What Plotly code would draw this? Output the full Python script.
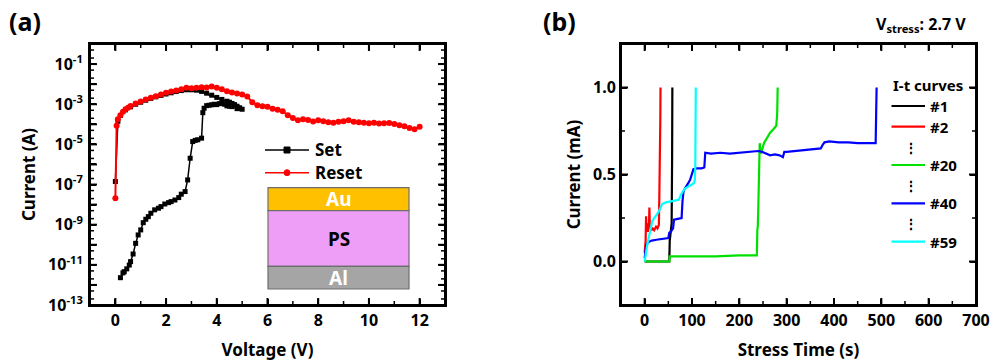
import math
import plotly.graph_objects as go

W, H = 991, 363
FONT = "Noto Sans"

# ---------------- (a) I-V characteristics (log10 of current in A) ----------------
set_up_v = [0.2, 0.3, 0.35, 0.45, 0.55, 0.6, 0.7, 0.8, 0.9, 1.0, 1.1, 1.2, 1.3, 1.4,
            1.55, 1.7, 1.8, 1.95, 2.1, 2.2, 2.35, 2.5, 2.6, 2.75, 2.85, 2.95, 3.05,
            3.15, 3.25, 3.4, 3.45, 3.5, 3.6, 3.7, 3.8, 3.9, 4.0, 4.1, 4.2, 4.3, 4.4,
            4.5, 4.6, 4.7, 4.8, 4.9, 5.0]
set_up_log = [-11.64, -11.40, -11.34, -11.20, -11.01, -10.84, -10.46, -9.93, -9.51,
              -9.26, -8.90, -8.73, -8.60, -8.43, -8.26, -8.18, -8.10, -7.97, -7.90,
              -7.85, -7.77, -7.65, -7.48, -7.35, -6.77, -5.69, -4.86, -4.80, -4.77,
              -4.69, -3.42, -3.20, -3.07, -3.05, -3.03, -3.00, -3.02, -2.97, -2.95,
              -3.00, -3.08, -3.10, -3.12, -3.05, -3.22, -3.20, -3.25]
set_down_v = [4.9, 4.8, 4.7, 4.6, 4.5, 4.4, 4.2, 4.0, 3.8, 3.6, 3.4, 3.2, 3.0, 2.8,
              2.6, 2.4, 2.2, 2.0, 1.8, 1.6, 1.4, 1.2, 1.0, 0.8, 0.6, 0.4, 0.2, 0.1, 0.0]
set_down_log = [-3.18, -3.10, -3.02, -2.96, -2.90, -2.85, -2.76, -2.66, -2.55, -2.45,
                -2.36, -2.30, -2.28, -2.28, -2.32, -2.37, -2.43, -2.49, -2.56, -2.63,
                -2.71, -2.80, -2.90, -3.00, -3.13, -3.28, -3.56, -3.85, -6.85]

reset_v = [0, 0.05, 0.1, 0.2, 0.3, 0.4, 0.5, 0.6, 0.8, 1.0, 1.2, 1.4, 1.6, 1.8, 2.0,
           2.2, 2.4, 2.6, 2.8, 3.0, 3.2, 3.4, 3.6, 3.8, 4.0, 4.2, 4.4, 4.6, 4.8, 5.0,
           5.2, 5.4, 5.6, 5.8, 6.0, 6.2, 6.4, 6.6, 6.8, 7.0, 7.2, 7.4, 7.6, 7.8, 8.0,
           8.2, 8.4, 8.6, 8.8, 9.0, 9.2, 9.4, 9.6, 9.8, 10.0, 10.2, 10.4, 10.6, 10.8,
           11.0, 11.2, 11.4, 11.6, 11.8, 12.0]
reset_log = [-7.68, -4.07, -3.75, -3.55, -3.38, -3.25, -3.17, -3.09, -2.96, -2.86,
             -2.77, -2.68, -2.60, -2.52, -2.43, -2.37, -2.31, -2.25, -2.18, -2.20,
             -2.18, -2.15, -2.17, -2.12, -2.18, -2.25, -2.35, -2.42, -2.47, -2.52,
             -2.62, -2.90, -3.05, -3.10, -3.13, -3.22, -3.27, -3.35, -3.55, -3.68,
             -3.80, -3.75, -3.78, -3.86, -3.80, -3.85, -3.90, -3.92, -3.87, -3.85,
             -3.80, -3.87, -3.90, -3.92, -3.95, -3.92, -3.96, -3.95, -3.94, -3.98,
             -4.05, -4.10, -4.18, -4.24, -4.12]

A_XRANGE = [-1, 13]
A_LOGRANGE = [-13, 0]
log_ticks = list(range(-13, 1))
log_ticktext = ["10<sup>%d</sup>" % k if k % 2 else "" for k in log_ticks]
stack_layers = [("Au", "#FFC000", "white"), ("PS", "#EE9EF7", "black"), ("Al", "#A5A5A5", "white")]

# ---------------- (b) I-t curves under constant stress ----------------
t1 = [0, 10, 20, 30, 40, 50, 52, 53, 55, 57, 58, 58.5]
i1 = [0, 0, 0, 0, 0, 0, 0, 0.12, 0.18, 0.22, 0.60, 1.0]

t2 = [0, 2, 3, 4, 5, 7, 9, 10, 11, 12, 14, 17, 20, 24, 27, 30, 31, 32, 33, 33.5]
i2 = [0.05, 0.12, 0.26, 0.17, 0.22, 0.17, 0.20, 0.31, 0.19, 0.21, 0.18, 0.19, 0.18,
      0.20, 0.19, 0.21, 0.38, 0.52, 0.80, 1.0]

t20 = [0, 20, 40, 52, 53, 60, 100, 150, 200, 230, 237, 238, 239, 240, 241, 243, 245,
       248, 252, 258, 265, 272, 278, 280, 281]
i20 = [0, 0, 0, 0, 0.03, 0.03, 0.03, 0.03, 0.035, 0.035, 0.035, 0.18, 0.20, 0.30,
       0.55, 0.68, 0.62, 0.64, 0.68, 0.71, 0.74, 0.76, 0.78, 0.85, 1.0]

t40 = [0, 1, 3, 7, 15, 25, 40, 50, 52, 55, 60, 62, 70, 78, 80, 82, 85, 88, 92, 96, 100,
       103, 110, 120, 126, 128, 140, 160, 180, 200, 220, 240, 248, 255, 265, 275, 285,
       292, 295, 300, 320, 340, 360, 372, 376, 380, 390, 410, 430, 450, 470, 488, 490]
i40 = [0.02, 0.06, 0.09, 0.11, 0.12, 0.125, 0.13, 0.135, 0.165, 0.17, 0.19, 0.24, 0.245,
       0.25, 0.35, 0.40, 0.42, 0.43, 0.45, 0.47, 0.50, 0.53, 0.535, 0.535, 0.54, 0.625,
       0.62, 0.625, 0.62, 0.625, 0.63, 0.635, 0.63, 0.62, 0.61, 0.615, 0.61, 0.60, 0.63,
       0.63, 0.635, 0.64, 0.645, 0.65, 0.67, 0.685, 0.69, 0.685, 0.685, 0.68, 0.68, 0.68,
       1.0]

t59 = [0, 2, 5, 8, 12, 16, 20, 26, 32, 37, 45, 55, 65, 72, 76, 80, 86, 92, 98, 104,
       106, 107, 108]
i59 = [0.0, 0.05, 0.09, 0.13, 0.18, 0.23, 0.25, 0.27, 0.30, 0.33, 0.34, 0.345, 0.35,
       0.355, 0.38, 0.40, 0.42, 0.43, 0.44, 0.45, 0.47, 0.55, 1.0]

curve_names = ["#1", "#2", "#20", "#40", "#59"]
curve_colors = ["#000000", "#FF0000", "#00E000", "#0000FF", "#00FFFF"]
curve_t = [t1, t2, t20, t40, t59]
curve_i = [i1, i2, i20, i40, i59]

B_XRANGE = [-50, 700]
B_YRANGE = [-0.25, 1.25]

# ---------------- layout geometry (pixels) ----------------
A_X = (90, 445)
B_X = (621, 976)
P_Y = (44, 305)
PLOT_W = A_X[1] - A_X[0]
PLOT_H = P_Y[1] - P_Y[0]
MAJOR_LEN, MINOR_LEN = 7, 4


def px(x):
    return x / W


def py(y):
    return 1 - y / H


fig = go.Figure()

fig.add_trace(go.Scatter(
    x=set_up_v + set_down_v,
    y=[10 ** v for v in set_up_log + set_down_log],
    mode="lines+markers", name="Set",
    line=dict(color="black", width=1.5),
    marker=dict(symbol="square", size=5, color="black"),
    xaxis="x", yaxis="y"))
fig.add_trace(go.Scatter(
    x=reset_v, y=[10 ** v for v in reset_log],
    mode="lines+markers", name="Reset",
    line=dict(color="red", width=2),
    marker=dict(symbol="circle", size=6, color="red"),
    xaxis="x", yaxis="y"))

for name, col, tt, ii in zip(curve_names, curve_colors, curve_t, curve_i):
    fig.add_trace(go.Scatter(
        x=tt, y=ii, mode="lines", name=name,
        line=dict(color=col, width=2.2),
        xaxis="x2", yaxis="y2"))

tickfont = dict(family=FONT, size=16, color="black", weight="bold")
titlefont = dict(family=FONT, size=17, color="black", weight="bold")
common = dict(showline=True, linecolor="#000000", linewidth=2, mirror="ticks",
              ticks="inside", ticklen=6, tickwidth=1.5, tickcolor="#000000",
              showgrid=False, zeroline=False, tickfont=tickfont)

fig.update_layout(
    template="none",
    width=W, height=H,
    margin=dict(l=0, r=0, t=0, b=0),
    paper_bgcolor="white", plot_bgcolor="white",
    showlegend=False,
    xaxis=dict(domain=[px(A_X[0]), px(A_X[1])], range=A_XRANGE, dtick=2, tick0=0,
               ticklabelstandoff=0,
               title=dict(text="Voltage (V)", font=titlefont, standoff=14),
               anchor="y", **common),
    yaxis=dict(domain=[py(P_Y[1]), py(P_Y[0])], type="log", range=A_LOGRANGE,
               tickmode="array", tickvals=[10 ** k for k in log_ticks], ticktext=log_ticktext,
               ticklabelstandoff=2,
               title=dict(text="Current (A)", font=titlefont, standoff=8),
               anchor="x", **common),
    xaxis2=dict(domain=[px(B_X[0]), px(B_X[1])], range=B_XRANGE, dtick=100, tick0=0,
                ticklabelstandoff=0,
                title=dict(text="Stress Time (s)", font=titlefont, standoff=14),
                anchor="y2", **common),
    yaxis2=dict(domain=[py(P_Y[1]), py(P_Y[0])], range=B_YRANGE, dtick=0.5, tick0=0,
                tickformat=".1f", ticklabelstandoff=0,
                title=dict(text="Current (mA)", font=titlefont, standoff=8),
                anchor="x2", **common),
)

shapes = []
annotations = []


def label(x, y, text, size, color="black", xanchor="center"):
    annotations.append(dict(x=px(x), y=py(y), xref="paper", yref="paper",
                            xanchor=xanchor, yanchor="middle", text=text, showarrow=False,
                            font=dict(family=FONT, size=size, color=color, weight="bold")))


def xticks(xref, yref, values, length, width):
    # inward tick marks on the bottom and top edges of a frame
    f = length / PLOT_H
    for v in values:
        for y0, y1 in ((0, f), (1, 1 - f)):
            shapes.append(dict(type="line", xref=xref, yref=yref, x0=v, x1=v, y0=y0, y1=y1,
                               line=dict(color="black", width=width), layer="above"))


def yticks(xref, yref, values, length, width):
    # inward tick marks on the left and right edges of a frame
    f = length / PLOT_W
    for v in values:
        for x0, x1 in ((0, f), (1, 1 - f)):
            shapes.append(dict(type="line", xref=xref, yref=yref, x0=x0, x1=x1, y0=v, y1=v,
                               line=dict(color="black", width=width), layer="above"))


def inside(lo, hi, values):
    return [v for v in values if lo < v < hi]


# tick marks of panel (a)
xticks("x", "y domain", inside(*A_XRANGE, range(0, 13, 2)), MAJOR_LEN, 2)
xticks("x", "y domain", inside(*A_XRANGE, range(-1, 14, 2)), MINOR_LEN, 1.5)
span = A_LOGRANGE[1] - A_LOGRANGE[0]
yticks("x domain", "y domain",
       [(k - A_LOGRANGE[0]) / span for k in log_ticks if A_LOGRANGE[0] < k < A_LOGRANGE[1]],
       MAJOR_LEN, 2)
yticks("x domain", "y domain",
       [(k + math.log10(m) - A_LOGRANGE[0]) / span for k in range(-13, 0) for m in (2, 5)],
       MINOR_LEN, 1.5)

# tick marks of panel (b)
xticks("x2", "y2 domain", inside(*B_XRANGE, range(0, 701, 100)), MAJOR_LEN, 2)
xticks("x2", "y2 domain", inside(*B_XRANGE, range(-50, 701, 100)), MINOR_LEN, 1.5)
yticks("x2 domain", "y2", [0.0, 0.5, 1.0], MAJOR_LEN, 2)
yticks("x2 domain", "y2", [0.25, 0.75], MINOR_LEN, 1.5)

# plot frames
for xr, yr in [("x domain", "y domain"), ("x2 domain", "y2 domain")]:
    shapes.append(dict(type="rect", xref=xr, yref=yr, x0=0, x1=1, y0=0, y1=1,
                       line=dict(color="black", width=2), layer="above"))

# panel labels and stress condition
label(25, 21, "(a)", 25)
label(559, 21, "(b)", 25)
label(968, 24, "V<sub>stress</sub>: 2.7 V", 16, xanchor="right")

# legend of panel (a)
leg_a = [("Set", "black", "square", 150), ("Reset", "red", "circle", 172.7)]
for text, col, sym, yy in leg_a:
    shapes.append(dict(type="line", xref="paper", yref="paper",
                       x0=px(265), x1=px(309), y0=py(yy), y1=py(yy),
                       line=dict(color=col, width=1.5)))
    shapes.append(dict(type="rect" if sym == "square" else "circle", xref="paper", yref="paper",
                       x0=px(284), x1=px(290), y0=py(yy - 3), y1=py(yy + 3),
                       line=dict(color=col, width=1), fillcolor=col))
    label(313, yy, text, 17, xanchor="left")

# device stack inset
layer_edges = [187.7, 210.7, 266.3, 289]
for k, (lbl, fill, tcol) in enumerate(stack_layers):
    y0, y1 = layer_edges[k], layer_edges[k + 1]
    shapes.append(dict(type="rect", xref="paper", yref="paper",
                       x0=px(268), x1=px(409), y0=py(y1), y1=py(y0),
                       line=dict(color="#6E6E6E", width=1.2), fillcolor=fill))
    label((268 + 409) / 2, (y0 + y1) / 2, lbl, 19, color=tcol)

# legend of panel (b)
label(891, 85, "I-t curves", 15, xanchor="left")
leg_b_y = [106, 126.7, 165, 203.3, 241.7]
for name, col, yy in zip(curve_names, curve_colors, leg_b_y):
    shapes.append(dict(type="line", xref="paper", yref="paper",
                       x0=px(891.5), x1=px(925), y0=py(yy), y1=py(yy),
                       line=dict(color=col, width=2.2)))
    label(928, yy, name, 15, xanchor="left")
for yy in [147.3, 185, 223.3]:
    label(911, yy, "⋮", 14)

fig.update_layout(shapes=shapes, annotations=annotations)
fig.write_html("out.html")
